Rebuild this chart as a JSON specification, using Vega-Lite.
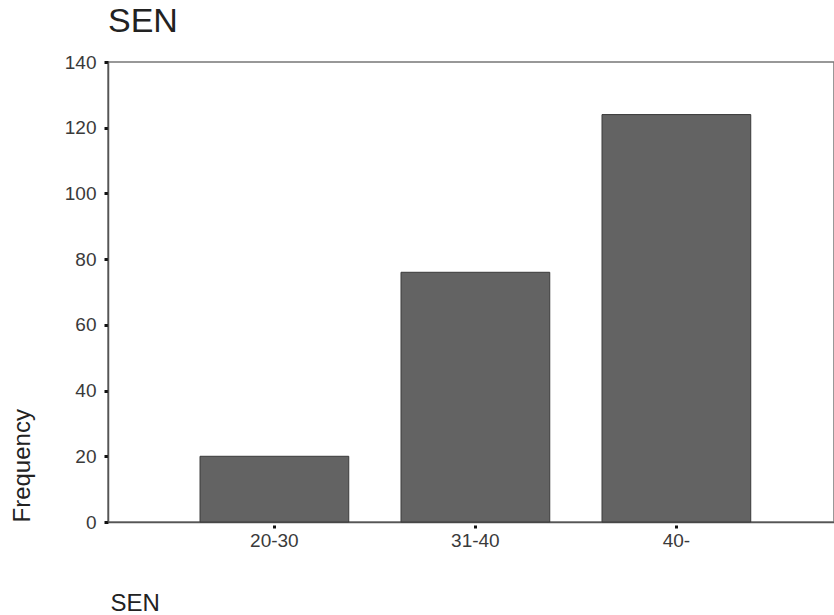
{
  "$schema": "https://vega.github.io/schema/vega-lite/v6.json",
  "autosize": "none",
  "padding": {"left": 108, "top": 62, "right": 0, "bottom": 93},
  "width": 726,
  "height": 460,
  "background": "white",
  "title": {
    "text": "SEN",
    "anchor": "start",
    "frame": "group",
    "font": "Liberation Sans",
    "fontSize": 34,
    "fontWeight": "normal",
    "color": "#222222",
    "offset": 14
  },
  "config": {
    "view": {"stroke": "#777777", "strokeWidth": 1.5},
    "font": "Liberation Sans"
  },
  "data": {
    "values": [
      {"SEN": "20-30", "Frequency": 20},
      {"SEN": "31-40", "Frequency": 76},
      {"SEN": "40-", "Frequency": 124}
    ]
  },
  "mark": {"type": "bar", "color": "#636363", "stroke": "#3a3a3a", "strokeWidth": 1},
  "encoding": {
    "x": {
      "field": "SEN",
      "type": "nominal",
      "sort": null,
      "scale": {"paddingInner": 0.26, "paddingOuter": 0.436, "align": 0.525},
      "axis": {
        "title": "SEN",
        "titleFont": "Liberation Sans",
        "titleFontSize": 24,
        "titleFontWeight": "normal",
        "titleColor": "#222222",
        "titleAnchor": "start",
        "titleAlign": "left",
        "titleBaseline": "alphabetic",
        "titleX": 2,
        "titleY": 88,
        "labelAngle": 0,
        "labelFontSize": 19,
        "labelColor": "#3a3a3a",
        "labelPadding": 3,
        "domainColor": "#555555",
        "domainWidth": 1.5,
        "tickColor": "#111111",
        "tickSize": 6,
        "tickWidth": 3,
        "tickDash": [0, 3, 3, 20]
      }
    },
    "y": {
      "field": "Frequency",
      "type": "quantitative",
      "scale": {"domain": [0, 140], "nice": false},
      "axis": {
        "values": [0, 20, 40, 60, 80, 100, 120, 140],
        "grid": false,
        "title": "Frequency",
        "titleFont": "Liberation Sans",
        "titleFontSize": 24,
        "titleFontWeight": "normal",
        "titleColor": "#222222",
        "titleAngle": -90,
        "titleAlign": "left",
        "titleBaseline": "middle",
        "titleX": -86,
        "titleY": 460,
        "labelFontSize": 19,
        "labelColor": "#3a3a3a",
        "labelPadding": 8,
        "domainColor": "#555555",
        "domainWidth": 1.5,
        "tickColor": "#111111",
        "tickSize": 4,
        "tickWidth": 3
      }
    }
  }
}
